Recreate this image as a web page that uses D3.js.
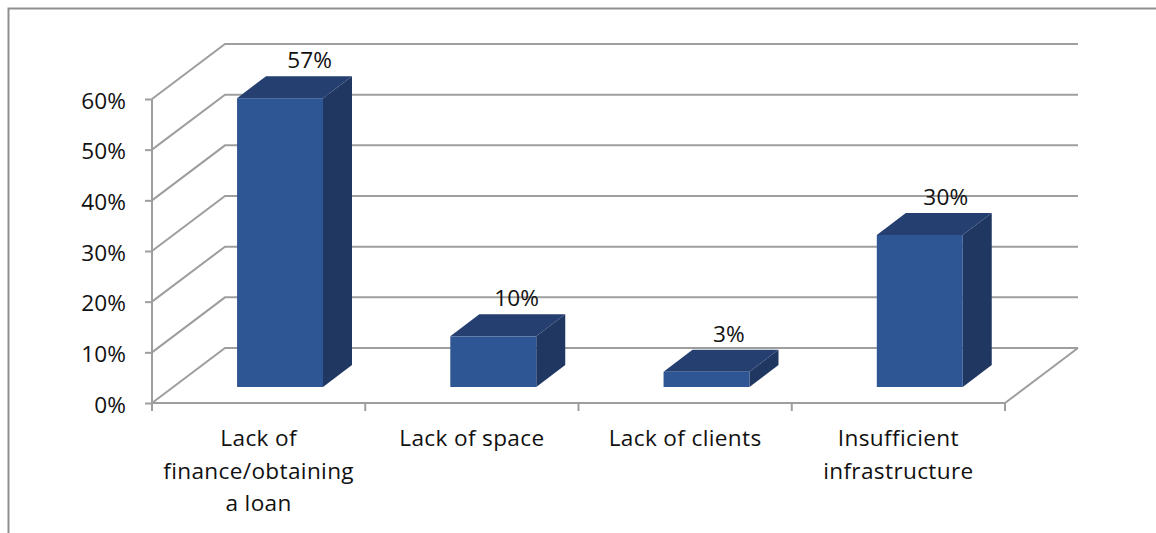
<!DOCTYPE html>
<html>
<head>
<meta charset="utf-8">
<script src="https://cdn.jsdelivr.net/npm/d3@7/dist/d3.min.js"></script>
<style>
html,body{margin:0;padding:0;background:#fff;overflow:hidden}
svg{display:block}
text{font-family:"Open Sans","Noto Sans",sans-serif;fill:#111;font-size:22.6px;letter-spacing:.1px}
.cat text{letter-spacing:.35px}
</style>
</head>
<body>
<svg id="chart" width="1156" height="533"></svg>
<script>
// Obstacles reported, as a share of respondents
const categories = [
  ["Lack of", "finance/obtaining", "a loan"],
  ["Lack of space"],
  ["Lack of clients"],
  ["Insufficient", "infrastructure"]
];
const values = [57, 10, 3, 30];
const valueLabels = ["57%", "10%", "3%", "30%"];
const yTicks = [0, 10, 20, 30, 40, 50, 60];

const svg = d3.select("#chart");
const GRID = "#9e9e9e", FRAME = "#8f8f8f";
const FRONT = "#2e5594", TOP = "#253f70", SIDE = "#203762";

// Oblique projection of the plot box
const plot = {left: 152, right: 1005, bottom: 403, top: 99};
const wall = {dx: 73, dy: -55};      // floor depth
const depth = {dx: 29, dy: -22};     // bar depth
const inset = {dx: 21.4, dy: -16};   // bar offset from the front edge of the floor

const y = d3.scaleLinear().domain([0, 60]).range([plot.bottom, plot.top]);
const x = d3.scaleBand().domain(d3.range(categories.length))
  .range([plot.left, plot.right]).paddingInner(0.597).paddingOuter(0.2985);

// Frame: only the top and left edges are present
svg.append("path")
  .attr("d", "M8.5,533V8.5H1156")
  .attr("fill", "none").attr("stroke", FRAME).attr("stroke-width", 2);

// Gridlines: slanted along the side wall, then straight along the back wall
const grid = svg.append("g").attr("fill", "none").attr("stroke", GRID).attr("stroke-width", 2);
yTicks.forEach(t => {
  const path = d3.path();
  path.moveTo(plot.left, y(t));
  path.lineTo(plot.left + wall.dx, y(t) + wall.dy);
  path.lineTo(plot.right + wall.dx, y(t) + wall.dy);
  grid.append("path").attr("d", path.toString());
});

// Floor right edge
const edge = d3.path();
edge.moveTo(plot.right, plot.bottom);
edge.lineTo(plot.right + wall.dx, plot.bottom + wall.dy);
grid.append("path").attr("d", edge.toString());

// Value axis with outward ticks
const yAxis = svg.append("g").attr("transform", `translate(${plot.left},0)`)
  .call(d3.axisLeft(y).tickValues(yTicks).tickSize(7).tickPadding(19).tickFormat(d => d + "%"));
yAxis.select(".domain").attr("stroke", GRID).attr("stroke-width", 2).attr("d", `M0,${plot.bottom}V${plot.top}`);
yAxis.selectAll("line").attr("stroke", GRID).attr("stroke-width", 2);
yAxis.selectAll("text").attr("fill", "#111").attr("dy", "0.4em");

// Category axis with ticks on band boundaries
const xBoundaries = d3.range(categories.length + 1);
const xb = d3.scaleLinear().domain([0, categories.length]).range([plot.left, plot.right]);
const xAxis = svg.append("g").attr("stroke", GRID).attr("stroke-width", 2);
xAxis.append("line").attr("x1", xb(0)).attr("x2", xb(categories.length)).attr("y1", plot.bottom).attr("y2", plot.bottom);
xAxis.selectAll("line.tick").data(xBoundaries).join("line").attr("class", "tick")
  .attr("x1", d => xb(d)).attr("x2", d => xb(d)).attr("y1", plot.bottom).attr("y2", plot.bottom + 8);

// Wrapped category labels
const labels = svg.append("g").attr("class", "cat").attr("text-anchor", "middle");
categories.forEach((lines, i) => {
  const t = labels.append("text");
  lines.forEach((line, j) => {
    t.append("tspan").attr("x", xb(i + 0.5)).attr("y", 446 + j * 32.5).text(line);
  });
});

// Bars drawn as three visible faces
const base = y(0) + inset.dy;
const barH = v => y(0) - y(v);
const bars = svg.append("g").selectAll("g").data(values).join("g");
const bx = i => x(i) + inset.dx;
const poly = pts => d3.line()(pts) + "Z";

bars.append("path").attr("fill", SIDE).attr("d", (d, i) => {
  const r = bx(i) + x.bandwidth(), t = base - barH(d);
  return poly([[r, t], [r + depth.dx, t + depth.dy], [r + depth.dx, base + depth.dy], [r, base]]);
});
bars.append("path").attr("fill", TOP).attr("d", (d, i) => {
  const l = bx(i), r = l + x.bandwidth(), t = base - barH(d);
  return poly([[l, t], [l + depth.dx, t + depth.dy], [r + depth.dx, t + depth.dy], [r, t]]);
});
bars.append("rect").attr("fill", FRONT)
  .attr("x", (d, i) => bx(i)).attr("y", d => base - barH(d))
  .attr("width", x.bandwidth()).attr("height", d => barH(d));

// Value labels sit above each bar, drifting right with bar height
const labelShift = d3.scaleLinear().domain([0, 60]).range([22, 30]);
svg.append("g").attr("text-anchor", "middle")
  .selectAll("text").data(values).join("text")
  .attr("x", (d, i) => bx(i) + x.bandwidth() / 2 + labelShift(d))
  .attr("y", d => base - barH(d) + depth.dy - 8)
  .text((d, i) => valueLabels[i]);
</script>
</body>
</html>
